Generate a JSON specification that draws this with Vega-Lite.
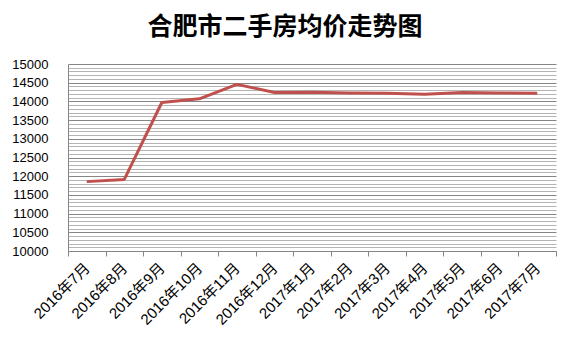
{
  "$schema": "https://vega.github.io/schema/vega-lite/v6.json",
  "autosize": "none",
  "width": 488,
  "height": 187,
  "padding": {"left": 68, "top": 64, "right": 18, "bottom": 93},
  "background": "white",
  "config": {"view": {"stroke": null}},
  "title": {
    "text": "合肥市二手房均价走势图",
    "font": "Noto Sans CJK SC",
    "fontSize": 25,
    "fontWeight": "bold",
    "color": "#000000",
    "anchor": "middle",
    "dx": -27,
    "offset": 18
  },
  "data": {
    "values": [
      {"month": "2016年7月", "price": 11855},
      {"month": "2016年8月", "price": 11915},
      {"month": "2016年9月", "price": 13970},
      {"month": "2016年10月", "price": 14070},
      {"month": "2016年11月", "price": 14455},
      {"month": "2016年12月", "price": 14240},
      {"month": "2017年1月", "price": 14245},
      {"month": "2017年2月", "price": 14225},
      {"month": "2017年3月", "price": 14220},
      {"month": "2017年4月", "price": 14190},
      {"month": "2017年5月", "price": 14240},
      {"month": "2017年6月", "price": 14225},
      {"month": "2017年7月", "price": 14220}
    ]
  },
  "mark": {"type": "line", "color": "#C0504D", "strokeWidth": 3, "strokeJoin": "round"},
  "encoding": {
    "x": {
      "field": "month",
      "type": "ordinal",
      "sort": null,
      "bandPosition": 0.5,
      "scale": {"type": "band", "paddingInner": 0, "paddingOuter": 0},
      "axis": {
        "title": null,
        "labelAngle": -45,
        "labelAlign": "right",
        "labelBaseline": "middle",
        "labelFont": "Liberation Sans, Noto Sans CJK SC",
        "labelFontSize": 15,
        "labelColor": "#000000",
        "labelPadding": 9,
        "tickBand": "extent",
        "tickSize": 5,
        "tickColor": "#868686",
        "domainColor": "#868686",
        "grid": false
      }
    },
    "y": {
      "field": "price",
      "type": "quantitative",
      "scale": {"domain": [10000, 15000], "nice": false, "zero": false},
      "axis": {
        "title": null,
        "values": [10000,10100,10200,10300,10400,10500,10600,10700,10800,10900,11000,11100,11200,11300,11400,11500,11600,11700,11800,11900,12000,12100,12200,12300,12400,12500,12600,12700,12800,12900,13000,13100,13200,13300,13400,13500,13600,13700,13800,13900,14000,14100,14200,14300,14400,14500,14600,14700,14800,14900,15000],
        "format": "d",
        "labelExpr": "datum.value % 500 === 0 ? datum.label : ''",
        "labelOverlap": false,
        "labelFont": "Liberation Sans",
        "labelFontSize": 13,
        "labelColor": "#000000",
        "labelPadding": 20,
        "ticks": false,
        "domainColor": "#868686",
        "grid": true,
        "gridColor": {"condition": {"test": "datum.value % 500 === 0", "value": "#868686"}, "value": "#b4b4b4"},
        "gridOpacity": 1
      }
    }
  }
}
